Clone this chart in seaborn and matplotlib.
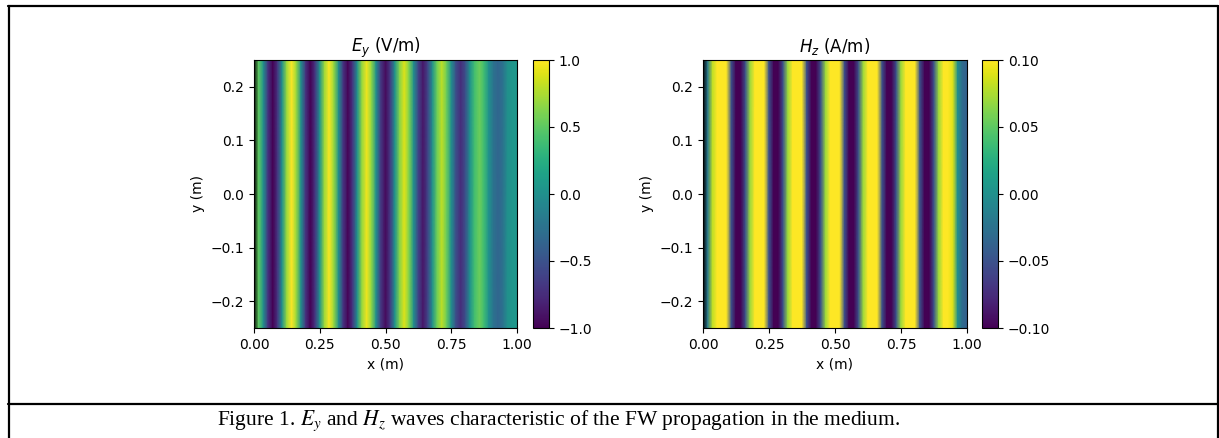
import numpy as np
import matplotlib
matplotlib.use("Agg")
import matplotlib.pyplot as plt
from matplotlib.lines import Line2D
import seaborn as sns

# ---------------- data ----------------
# sample positions along x (m), 1/56 m apart
x_pos = np.linspace(0.0, 1.0, 57)
y_edges = [-0.25, 0.25]

# E_y (V/m) at each x sample; first value is the black source strip (below scale)
Ey = [-1.50,
      0.50, 0.00, -0.70, -1.00, -0.70, 0.00, 0.70,
      1.00, 0.70, 0.00, -0.70, -1.00, -0.70, 0.00, 0.70,
      0.98, 0.69, 0.00, -0.69, -0.98, -0.69, 0.00, 0.68,
      0.96, 0.67, 0.00, -0.66, -0.95, -0.66, 0.00, 0.63,
      0.90, 0.62, 0.00, -0.60, -0.88, -0.60, 0.00, 0.56,
      0.80, 0.55, 0.00, -0.52, -0.75, -0.52, 0.00, 0.40,
      0.55, 0.38, 0.00, -0.25, -0.35, -0.25, 0.00, 0.05,
      0.05]

# H_z (A/m) at each x sample (saturated colours read as +/-0.10)
Hz = [-0.20, -0.02, 0.08, 0.10, 0.10, 0.10, -0.05, -0.10,
      -0.10, -0.05, 0.07, 0.10, 0.10, 0.10, -0.05, -0.10,
      -0.10, -0.05, 0.07, 0.10, 0.10, 0.10, -0.05, -0.10,
      -0.10, -0.05, 0.07, 0.10, 0.10, 0.10, -0.05, -0.10,
      -0.10, -0.05, 0.07, 0.10, 0.10, 0.10, -0.05, -0.10,
      -0.10, -0.05, 0.07, 0.10, 0.10, 0.10, -0.05, -0.10,
      -0.10, -0.05, 0.07, 0.10, 0.10, 0.09, 0.00, -0.03,
      -0.04]

x_ticks = [0.0, 0.25, 0.5, 0.75, 1.0]
x_tick_labels = ["0.00", "0.25", "0.50", "0.75", "1.00"]
y_ticks = [-0.2, -0.1, 0.0, 0.1, 0.2]
y_tick_labels = ["\u22120.2", "\u22120.1", "0.0", "0.1", "0.2"]
ey_cbar_ticks = [-1.0, -0.5, 0.0, 0.5, 1.0]
hz_cbar_ticks = [-0.10, -0.05, 0.0, 0.05, 0.10]

titles = [r"$E_y$ (V/m)", r"$H_z$ (A/m)"]
caption = "Figure 1. $E_y$ and $H_z$ waves characteristic of the FW propagation in the medium."

# ---------------- style ----------------
sns.set_style("ticks", {"axes.edgecolor": "black", "xtick.color": "black",
                        "ytick.color": "black", "text.color": "black",
                        "axes.labelcolor": "black"})
plt.rcParams["font.family"] = ["DejaVu Sans"]

cmap = sns.color_palette("viridis", as_cmap=True).with_extremes(under="black")

W, H = 1219, 438
fig = plt.figure(figsize=(W / 100, H / 100), dpi=100)
fig.patch.set_facecolor("white")

def fx(px):
    return px / W

def fy(py):
    return 1 - py / H

top, bot = 60, 328
panels = [
    (254, 263, 533, Ey, -1.0, 1.0, ey_cbar_ticks, titles[0]),
    (703, 264, 982, Hz, -0.1, 0.1, hz_cbar_ticks, titles[1]),
]

idx = np.arange(len(x_pos))
for left, width, cleft, vals, vmin, vmax, cticks, title in panels:
    ax = fig.add_axes([fx(left), fy(bot), fx(width), (bot - top) / H])
    cax = fig.add_axes([fx(cleft), fy(bot), fx(16), (bot - top) / H])
    field = np.vstack([vals, vals])
    sns.heatmap(field, ax=ax, cbar_ax=cax, cmap=cmap, vmin=vmin, vmax=vmax,
                shading="gouraud", xticklabels=False, yticklabels=False,
                cbar_kws={"ticks": cticks})
    ax.set_xlim(0, len(x_pos) - 1)
    ax.set_ylim(0, 1)
    ax.set_xticks(np.interp(x_ticks, x_pos, idx))
    ax.set_xticklabels(x_tick_labels, rotation=0)
    ax.set_yticks(np.interp(y_ticks, y_edges, [0, 1]))
    ax.set_yticklabels(y_tick_labels, rotation=0)
    ax.tick_params(direction="out", length=3.5, width=0.8, labelsize=10)
    for s in ax.spines.values():
        s.set_visible(True)
        s.set_linewidth(0.8)
        s.set_color("black")
    ax.set_xlabel("x (m)", fontsize=10)
    ax.set_ylabel("y (m)", fontsize=10)
    ax.set_title(title, fontsize=12)
    cb = ax.collections[0].colorbar
    cb.outline.set_visible(True)
    cb.outline.set_linewidth(0.8)
    cb.outline.set_edgecolor("black")
    cb.ax.tick_params(direction="out", length=3.5, width=0.8, labelsize=10)

# ---------------- frame and caption ----------------
lw = 1.6
fig.add_artist(Line2D([fx(8), fx(1218)], [fy(6), fy(6)], color="black", lw=lw))
fig.add_artist(Line2D([fx(8.5), fx(8.5)], [0, fy(6)], color="black", lw=lw))
fig.add_artist(Line2D([fx(1217.5), fx(1217.5)], [0, fy(6)], color="black", lw=lw))
fig.add_artist(Line2D([fx(8), fx(1218)], [fy(404), fy(404)], color="black", lw=lw))

fig.text(fx(559), fy(421), caption, ha="center", va="center",
         family="Liberation Serif", fontsize=15.5, math_fontfamily="stix")

fig.savefig("out.png", dpi=100)
